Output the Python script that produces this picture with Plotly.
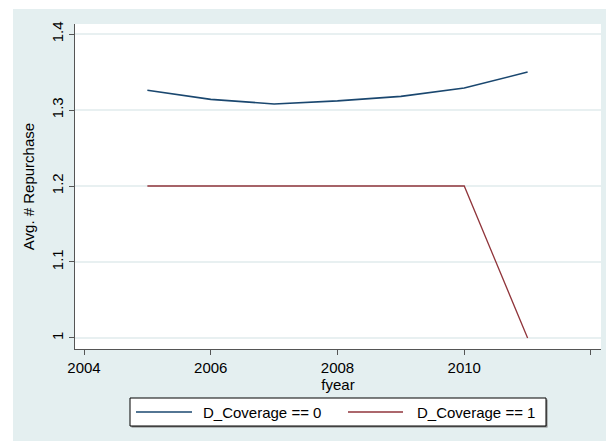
import plotly.graph_objects as go

# Average number of repurchases per fiscal year, split by coverage dummy
years = [2005, 2006, 2007, 2008, 2009, 2010, 2011]
avg_uncovered = [1.326, 1.314, 1.308, 1.312, 1.318, 1.329, 1.350]
avg_covered = [1.2, 1.2, 1.2, 1.2, 1.2, 1.2, 1.0]
series_names = ["D_Coverage == 0", "D_Coverage == 1"]
series_colors = ["#1a476f", "#90353b"]
x_ticks = [2004, 2006, 2008, 2010, 2012]
y_ticks = [1.0, 1.1, 1.2, 1.3, 1.4]
y_tick_text = ["1", "1.1", "1.2", "1.3", "1.4"]

W, H = 606, 441
ML, MR, MT, MB = 75, 5, 24, 92
PW, PH = W - ML - MR, H - MT - MB

BG = "#e4eff0"
FONT = "Liberation Sans, Arial, sans-serif"


def px_x(px):
    return (px - ML) / PW


def px_y(py):
    return (H - MB - py) / PH


fig = go.Figure()
for yvals, name, color, width in zip([avg_uncovered, avg_covered], series_names,
                                     series_colors, [1.6, 1.3]):
    fig.add_trace(go.Scatter(x=years, y=yvals, mode="lines", name=name,
                             showlegend=False,
                             line=dict(color=color, width=width)))

shapes = [
    # white strips around the graph region
    dict(type="rect", xref="paper", yref="paper", layer="below",
         x0=px_x(0), x1=px_x(W), y0=px_y(9), y1=px_y(-2),
         fillcolor="white", line=dict(width=0)),
    dict(type="rect", xref="paper", yref="paper", layer="below",
         x0=px_x(-2), x1=px_x(13), y0=px_y(H + 2), y1=px_y(-2),
         fillcolor="white", line=dict(width=0)),
    # legend box with drop shadow
    dict(type="rect", xref="paper", yref="paper", layer="above",
         x0=px_x(131.5), x1=px_x(547.5), y0=px_y(427.5), y1=px_y(399.5),
         fillcolor="#808080", line=dict(width=0)),
    dict(type="rect", xref="paper", yref="paper", layer="above",
         x0=px_x(130), x1=px_x(546), y0=px_y(426), y1=px_y(398),
         fillcolor="white", line=dict(color="black", width=1)),
]
annotations = []
legend_keys = [(136, 192, 201), (348, 403, 415)]
for (k0, k1, tx), name, color in zip(legend_keys, series_names, series_colors):
    shapes.append(dict(type="line", xref="paper", yref="paper", layer="above",
                       x0=px_x(k0), x1=px_x(k1), y0=px_y(412), y1=px_y(412),
                       line=dict(color=color, width=1.6)))
    annotations.append(dict(text=name, xref="paper", yref="paper",
                            x=px_x(tx), y=px_y(412), xanchor="left",
                            yanchor="middle", showarrow=False,
                            font=dict(family=FONT, size=15, color="black")))

fig.update_layout(
    width=W, height=H,
    margin=dict(l=ML, r=MR, t=MT, b=MB, autoexpand=False),
    paper_bgcolor=BG,
    plot_bgcolor="white",
    font=dict(family=FONT, size=15, color="black"),
    shapes=shapes,
    annotations=annotations,
    showlegend=False,
    xaxis=dict(range=[2003.858, 2012.158], tickvals=x_ticks,
               showgrid=False, zeroline=False,
               showline=True, linecolor="#555555", linewidth=1,
               ticks="outside", ticklen=5, tickcolor="#555555",
               tickfont=dict(size=15),
               title=dict(text="fyear", font=dict(size=15), standoff=2)),
    yaxis=dict(range=[0.9855, 1.4132], tickvals=y_ticks, ticktext=y_tick_text,
               tickangle=-90,
               showgrid=True, gridcolor="#e8f0f1", gridwidth=1.5,
               zeroline=False,
               showline=True, linecolor="#555555", linewidth=1,
               ticks="outside", ticklen=5, tickcolor="#555555",
               tickfont=dict(size=15),
               title=dict(text="Avg. # Repurchase", font=dict(size=15),
                          standoff=10)),
)

fig.write_html("out.html")
